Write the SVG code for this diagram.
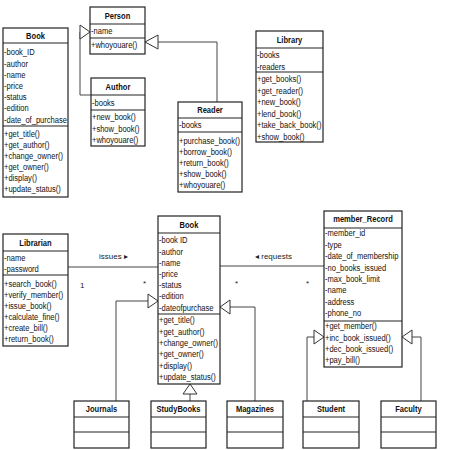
<svg xmlns="http://www.w3.org/2000/svg" width="474" height="450" viewBox="0 0 474 450">
<style>
.box{fill:#fff;stroke:#222;stroke-width:1.2}
.div{stroke:#222;stroke-width:1.2}
.t{font-family:"Liberation Sans",Arial,sans-serif;font-size:9px;fill:#111}
.h{font-family:"Liberation Sans",Arial,sans-serif;font-size:9px;font-weight:bold;fill:#111;text-anchor:middle}
.c{fill:none;stroke:#444;stroke-width:1}
.tri{fill:#fff;stroke:#333;stroke-width:1}
.l{font-family:"Liberation Sans","DejaVu Sans",sans-serif;font-size:8px;fill:#222}
</style>
<rect width="474" height="450" fill="#fff"/>
<g id="connectors">
<path class="c" d="M91 95H80V32"/><polygon class="tri" points="90,32 80,25 80,39"/>
<path class="c" d="M217 102V42H158"/><polygon class="tri" points="145,42 158,35 158,49"/>
<path class="c" d="M68 267H158"/>
<path class="c" d="M220 266H324"/>
<path class="c" d="M116 401V301H148"/><polygon class="tri" points="158,301 148,294 148,308"/>
<path class="c" d="M190 401V394"/><polygon class="tri" points="190,384 183,394 197,394"/>
<path class="c" d="M255 401V307H230"/><polygon class="tri" points="220,307 230,300 230,314"/>
<path class="c" d="M307 401V337H314"/><polygon class="tri" points="324,337 314,330 314,344"/>
<path class="c" d="M421 401V337H412"/><polygon class="tri" points="402,337 412,330 412,344"/>
<text class="l" x="99" y="259">issues ▸</text>
<text class="l" x="80" y="288">1</text>
<text class="l" x="143" y="286" font-size="7">*</text>
<text class="l" x="255" y="259">◂ requests</text>
<text class="l" x="235" y="286" font-size="7">*</text>
<text class="l" x="306" y="286" font-size="7">*</text>
</g>
<g id="book-top">
<rect class="box" x="3" y="28" width="65" height="169"/>
<line class="div" x1="3" y1="43" x2="68" y2="43"/><line class="div" x1="3" y1="126" x2="68" y2="126"/>
<g transform="translate(3 0) scale(0.84 1)">
<text class="h" x="38.7" y="39">Book</text>
<text class="t" x="1.2" y="55.5">-book_ID</text>
<text class="t" x="1.2" y="66.7">-author</text>
<text class="t" x="1.2" y="77.9">-name</text>
<text class="t" x="1.2" y="89.1">-price</text>
<text class="t" x="1.2" y="100.3">-status</text>
<text class="t" x="1.2" y="111.5">-edition</text>
<text class="t" x="1.2" y="122.7">-date_of_purchase</text>
<text class="t" x="1.2" y="137.5">+get_title()</text>
<text class="t" x="1.2" y="148.5">+get_author()</text>
<text class="t" x="1.2" y="159.5">+change_owner()</text>
<text class="t" x="1.2" y="170.5">+get_owner()</text>
<text class="t" x="1.2" y="181.5">+display()</text>
<text class="t" x="1.2" y="192.5">+update_status()</text>
</g>
</g>
<g id="person">
<rect class="box" x="90" y="7" width="55" height="47"/>
<line class="div" x1="90" y1="24" x2="145" y2="24"/><line class="div" x1="90" y1="38" x2="145" y2="38"/>
<g transform="translate(90 0) scale(0.84 1)">
<text class="h" x="32.7" y="19">Person</text>
<text class="t" x="1.2" y="34.5">-name</text>
<text class="t" x="1.2" y="48.5">+whoyouare()</text>
</g>
</g>
<g id="author">
<rect class="box" x="91" y="78" width="54" height="68"/>
<line class="div" x1="91" y1="95" x2="145" y2="95"/><line class="div" x1="91" y1="110" x2="145" y2="110"/>
<g transform="translate(91 0) scale(0.84 1)">
<text class="h" x="32.1" y="90">Author</text>
<text class="t" x="1.2" y="106">-books</text>
<text class="t" x="1.2" y="120.5">+new_book()</text>
<text class="t" x="1.2" y="132">+show_book()</text>
<text class="t" x="1.2" y="143.5">+whoyouare()</text>
</g>
</g>
<g id="reader">
<rect class="box" x="178" y="102" width="64" height="90"/>
<line class="div" x1="178" y1="118" x2="242" y2="118"/><line class="div" x1="178" y1="132" x2="242" y2="132"/>
<g transform="translate(178 0) scale(0.84 1)">
<text class="h" x="38.1" y="113.5">Reader</text>
<text class="t" x="1.2" y="128.5">-books</text>
<text class="t" x="1.2" y="144.5">+purchase_book()</text>
<text class="t" x="1.2" y="155.5">+borrow_book()</text>
<text class="t" x="1.2" y="166.5">+return_book()</text>
<text class="t" x="1.2" y="177.5">+show_book()</text>
<text class="t" x="1.2" y="188.5">+whoyouare()</text>
</g>
</g>
<g id="library">
<rect class="box" x="256" y="31" width="67" height="111"/>
<line class="div" x1="256" y1="48" x2="323" y2="48"/><line class="div" x1="256" y1="72" x2="323" y2="72"/>
<g transform="translate(256 0) scale(0.84 1)">
<text class="h" x="39.9" y="43">Library</text>
<text class="t" x="1.2" y="58.5">-books</text>
<text class="t" x="1.2" y="70">-readers</text>
<text class="t" x="1.2" y="82.5">+get_books()</text>
<text class="t" x="1.2" y="94">+get_reader()</text>
<text class="t" x="1.2" y="105.5">+new_book()</text>
<text class="t" x="1.2" y="117">+lend_book()</text>
<text class="t" x="1.2" y="128.5">+take_back_book()</text>
<text class="t" x="1.2" y="140">+show_book()</text>
</g>
</g>
<g id="librarian">
<rect class="box" x="3" y="234" width="65" height="112"/>
<line class="div" x1="3" y1="251" x2="68" y2="251"/><line class="div" x1="3" y1="275" x2="68" y2="275"/>
<g transform="translate(3 0) scale(0.84 1)">
<text class="h" x="38.7" y="246">Librarian</text>
<text class="t" x="1.2" y="261.5">-name</text>
<text class="t" x="1.2" y="272.5">-password</text>
<text class="t" x="1.2" y="287.5">+search_book()</text>
<text class="t" x="1.2" y="298.5">+verify_member()</text>
<text class="t" x="1.2" y="309.5">+issue_book()</text>
<text class="t" x="1.2" y="320.5">+calculate_fine()</text>
<text class="t" x="1.2" y="331.5">+create_bill()</text>
<text class="t" x="1.2" y="342.5">+return_book()</text>
</g>
</g>
<g id="book">
<rect class="box" x="158" y="216" width="62" height="168"/>
<line class="div" x1="158" y1="233" x2="220" y2="233"/><line class="div" x1="158" y1="314" x2="220" y2="314"/>
<g transform="translate(158 0) scale(0.84 1)">
<text class="h" x="36.9" y="228">Book</text>
<text class="t" x="1.2" y="243.5">-book ID</text>
<text class="t" x="1.2" y="254.7">-author</text>
<text class="t" x="1.2" y="265.9">-name</text>
<text class="t" x="1.2" y="277.1">-price</text>
<text class="t" x="1.2" y="288.3">-status</text>
<text class="t" x="1.2" y="299.5">-edition</text>
<text class="t" x="1.2" y="310.7">-dateofpurchase</text>
<text class="t" x="1.2" y="323.5">+get_title()</text>
<text class="t" x="1.2" y="334.8">+get_author()</text>
<text class="t" x="1.2" y="346.1">+change_owner()</text>
<text class="t" x="1.2" y="357.4">+get_owner()</text>
<text class="t" x="1.2" y="368.7">+display()</text>
<text class="t" x="1.2" y="380">+update_status()</text>
</g>
</g>
<g id="member-record">
<rect class="box" x="324" y="211" width="78" height="156"/>
<line class="div" x1="324" y1="228" x2="402" y2="228"/><line class="div" x1="324" y1="321" x2="402" y2="321"/>
<g transform="translate(324 0) scale(0.84 1)">
<text class="h" x="46.4" y="222.5">member_Record</text>
<text class="t" x="1.2" y="236.5">-member_id</text>
<text class="t" x="1.2" y="247.9">-type</text>
<text class="t" x="1.2" y="259.3">-date_of_membership</text>
<text class="t" x="1.2" y="270.7">-no_books_issued</text>
<text class="t" x="1.2" y="282.1">-max_book_limit</text>
<text class="t" x="1.2" y="293.5">-name</text>
<text class="t" x="1.2" y="304.9">-address</text>
<text class="t" x="1.2" y="316.3">-phone_no</text>
<text class="t" x="1.2" y="329.5">+get_member()</text>
<text class="t" x="1.2" y="340.8">+inc_book_issued()</text>
<text class="t" x="1.2" y="352.1">+dec_book_issued()</text>
<text class="t" x="1.2" y="363.4">+pay_bill()</text>
</g>
</g>
<g id="journals">
<rect class="box" x="74" y="401" width="55" height="47"/>
<line class="div" x1="74" y1="417" x2="129" y2="417"/><line class="div" x1="74" y1="432" x2="129" y2="432"/>
<g transform="translate(74 0) scale(0.84 1)"><text class="h" x="32.7" y="412.5">Journals</text></g>
</g>
<g id="studybooks">
<rect class="box" x="151" y="401" width="55" height="47"/>
<line class="div" x1="151" y1="417" x2="206" y2="417"/><line class="div" x1="151" y1="432" x2="206" y2="432"/>
<g transform="translate(151 0) scale(0.84 1)"><text class="h" x="32.7" y="412.5">StudyBooks</text></g>
</g>
<g id="magazines">
<rect class="box" x="227" y="401" width="56" height="47"/>
<line class="div" x1="227" y1="417" x2="283" y2="417"/><line class="div" x1="227" y1="432" x2="283" y2="432"/>
<g transform="translate(227 0) scale(0.84 1)"><text class="h" x="33.3" y="412.5">Magazines</text></g>
</g>
<g id="student">
<rect class="box" x="303" y="401" width="56" height="47"/>
<line class="div" x1="303" y1="417" x2="359" y2="417"/><line class="div" x1="303" y1="432" x2="359" y2="432"/>
<g transform="translate(303 0) scale(0.84 1)"><text class="h" x="33.3" y="412.5">Student</text></g>
</g>
<g id="faculty">
<rect class="box" x="381" y="401" width="55" height="47"/>
<line class="div" x1="381" y1="417" x2="436" y2="417"/><line class="div" x1="381" y1="432" x2="436" y2="432"/>
<g transform="translate(381 0) scale(0.84 1)"><text class="h" x="32.7" y="412.5">Faculty</text></g>
</g>
</svg>
